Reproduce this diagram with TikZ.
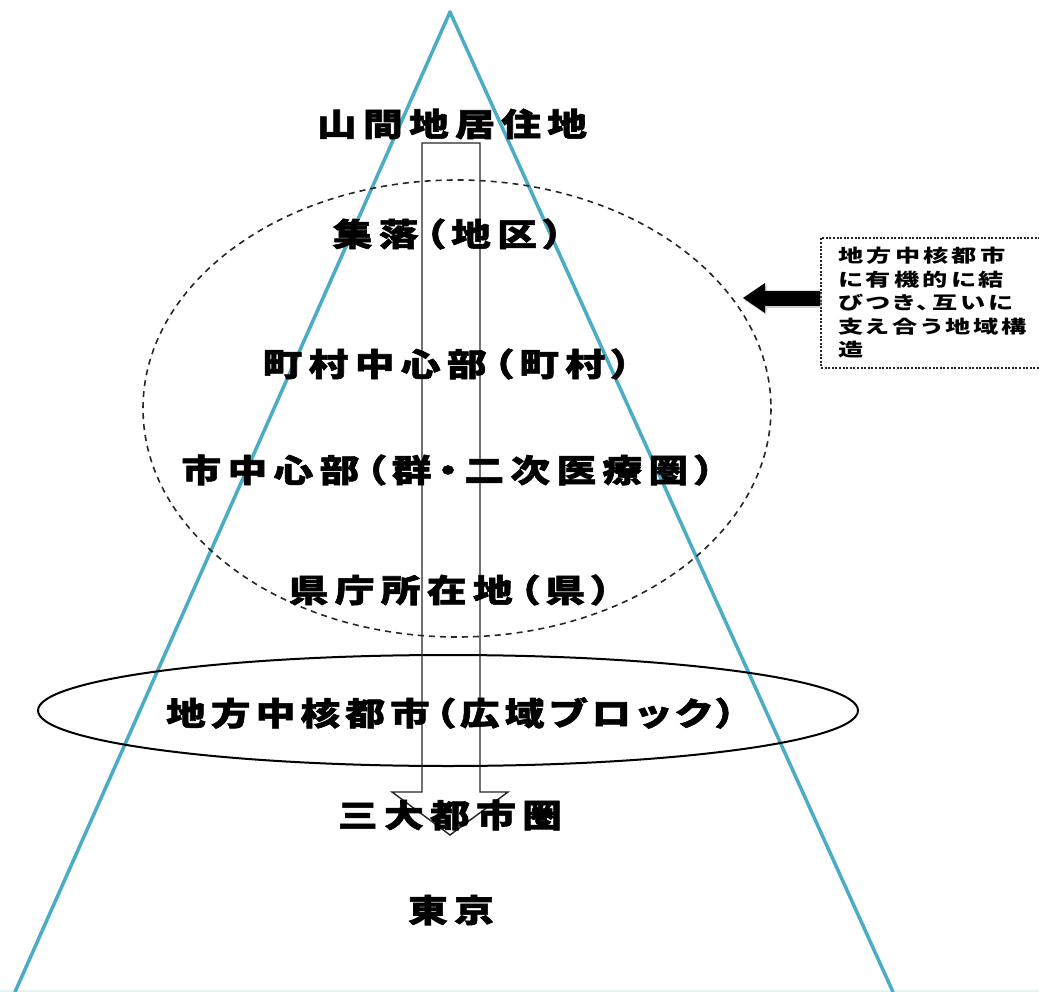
\documentclass[tikz,border=0pt]{standalone}
\usepackage{fontspec}
\usetikzlibrary{shadows}
\newfontfamily\jpmain{Noto Sans CJK JP}[FakeStretch=1.24, LetterSpace=20, RawFeature=+palt, BoldFeatures={FakeBold=1.8}]
\newfontfamily\jpnote{Noto Sans CJK JP}[FakeStretch=1.4, LetterSpace=18, RawFeature=+palt]
\definecolor{tri}{HTML}{4BACC6}
\definecolor{trilight}{HTML}{E6F3F5}
\begin{document}
\begin{tikzpicture}[x=1pt,y=-1pt,
  tri line/.style={draw=tri, line width=3.5pt, line join=round, line cap=round},
  lbl/.style={font=\jpmain\bfseries\fontsize{32}{32}\selectfont, inner sep=0pt, text=black},
  notetxt/.style={font=\jpnote\bfseries\fontsize{18}{23.5}\selectfont, inner sep=0pt, align=left, text=black},
  notebox/.style={draw=black!85, line width=2pt, dash pattern=on 2pt off 1.6pt},
  hollow arrow/.style={draw=black!85, line width=1.4pt, line join=miter},
  dashed ring/.style={draw=black!85, line width=1.6pt, dash pattern=on 6pt off 5pt},
  solid ring/.style={draw=black, line width=2pt},
  black arrow/.style={fill=black, drop shadow={opacity=0.35, shadow xshift=1.5pt, shadow yshift=-2pt}}
]
\useasboundingbox (0,0) rectangle (1039,992);
\fill[white] (0,0) rectangle (1039,992);

% pyramid
\coordinate (apex) at (450,12);
\coordinate (bl) at (15,992);
\coordinate (br) at (893,992);
\draw[trilight, line width=2pt] (0,990.5) -- (1039,990.5);
\draw[tri line] (bl) -- (apex) -- (br);

% rings
\draw[dashed ring] (457,408.5) ellipse [x radius=314, y radius=228.5];
\draw[solid ring] (448,710.5) ellipse [x radius=410, y radius=55.5];

% hollow downward arrow
\draw[hollow arrow] (422,143) -- (480,143) -- (480,792) -- (508,792) -- (450,835)
  -- (392,792) -- (422,792) -- cycle;

% labels
\node[lbl] (l1) at (452,124) {山間地居住地};
\node[lbl] (l2) at (448,234) {集落（地区）};
\node[lbl] (l3) at (447,364) {町村中心部（町村）};
\node[lbl] (l4) at (448,470) {市中心部（群・二次医療圏）};
\node[lbl] (l5) at (450,590) {県庁所在地（県）};
\node[lbl, font=\jpmain\bfseries\fontsize{32}{32}\selectfont\addfontfeature{LetterSpace=16}] (l6) at (451,713) {地方中核都市（広域ブロック）};
\node[lbl] (l7) at (450,815) {三大都市圏};
\node[lbl] (l8) at (451,910) {東京};

% note
\node[notebox, anchor=north west, minimum width=230pt, minimum height=130pt] (note) at (820,237) {};
\node[notetxt, anchor=north west] (notetext) at (838,247) {地方中核都市\\に有機的に結\\びつき、互いに\\支え合う地域構\\造};

% black arrow
\coordinate (tip) at (743,298);
\fill[black arrow] (tip) -- (765,283) -- (765,291) -- (note.west |- 0,291) -- (note.west |- 0,306)
  -- (765,306) -- (765,313) -- cycle;
\end{tikzpicture}
\end{document}
